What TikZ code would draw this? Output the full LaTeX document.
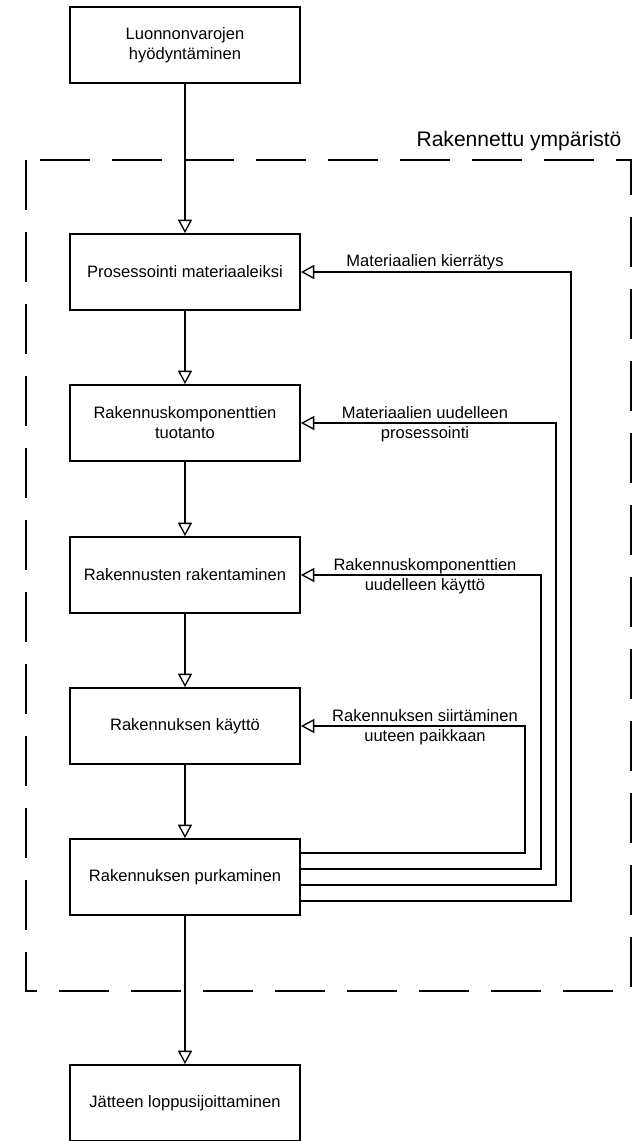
\documentclass[tikz,border=0pt]{standalone}
\usepackage{fontspec}
\setmainfont{Liberation Sans}
\usetikzlibrary{arrows.meta}
\begin{document}
\begin{tikzpicture}[x=0.75pt,y=-0.75pt,
  box/.style={draw,line width=1.4pt,minimum width=172.5pt,minimum height=57pt,inner sep=0pt,align=center,font=\fontsize{12.4}{15}\selectfont},
  flow/.style={line width=0.9pt,-{Triangle[open,length=10pt,width=10.5pt,line width=1pt]}},
  fb/.style={line width=1.3pt,-{Triangle[open,length=10pt,width=10.5pt,line width=1pt]}},
  lab/.style={font=\fontsize{12.4}{15}\selectfont,align=center,inner sep=0pt},
  env/.style={line width=1.9pt,dash pattern=on 37.5pt off 16.5pt}]
\useasboundingbox (0,0) rectangle (641,1141);
% environment border
\draw[env] (26,160) rectangle (631,991);
\node[font=\fontsize{15.8}{18}\selectfont,anchor=base] (envlab) at (519,147) {Rakennettu ympäristö};
% boxes
\node[box] (b0) at (185,45) {Luonnonvarojen\\hyödyntäminen};
\node[box] (b1) at (185,272) {Prosessointi materiaaleiksi};
\node[box] (b2) at (185,423) {Rakennuskomponenttien\\tuotanto};
\node[box] (b3) at (185,575) {Rakennusten rakentaminen};
\node[box] (b4) at (185,726) {Rakennuksen käyttö};
\node[box] (b5) at (185,877) {Rakennuksen purkaminen};
\node[box] (b6) at (185,1103) {Jätteen loppusijoittaminen};
% main flow
\draw[flow] (b0) -- (b1);
\draw[flow] (b1) -- (b2);
\draw[flow] (b2) -- (b3);
\draw[flow] (b3) -- (b4);
\draw[flow] (b4) -- (b5);
\draw[flow] (b5) -- (b6);
% feedback loops
\coordinate (v4) at (525,853);
\coordinate (v3) at (541,869);
\coordinate (v2) at (556,885);
\coordinate (v1) at (571,901);
\draw[fb] (b5.east |- v4) -- (v4) |- (b4.east);
\draw[fb] (b5.east |- v3) -- (v3) |- (b3.east);
\draw[fb] (b5.east |- v2) -- (v2) |- (b2.east);
\draw[fb] (b5.east |- v1) -- (v1) |- (b1.east);
% labels
\node[lab,anchor=base] (l1) at (425,266) {Materiaalien kierrätys};
\node[lab] (l2) at (425,424) {Materiaalien uudelleen\\prosessointi};
\node[lab] (l3) at (425,576) {Rakennuskomponenttien\\uudelleen käyttö};
\node[lab] (l4) at (425,727) {Rakennuksen siirtäminen\\uuteen paikkaan};
\end{tikzpicture}
\end{document}
